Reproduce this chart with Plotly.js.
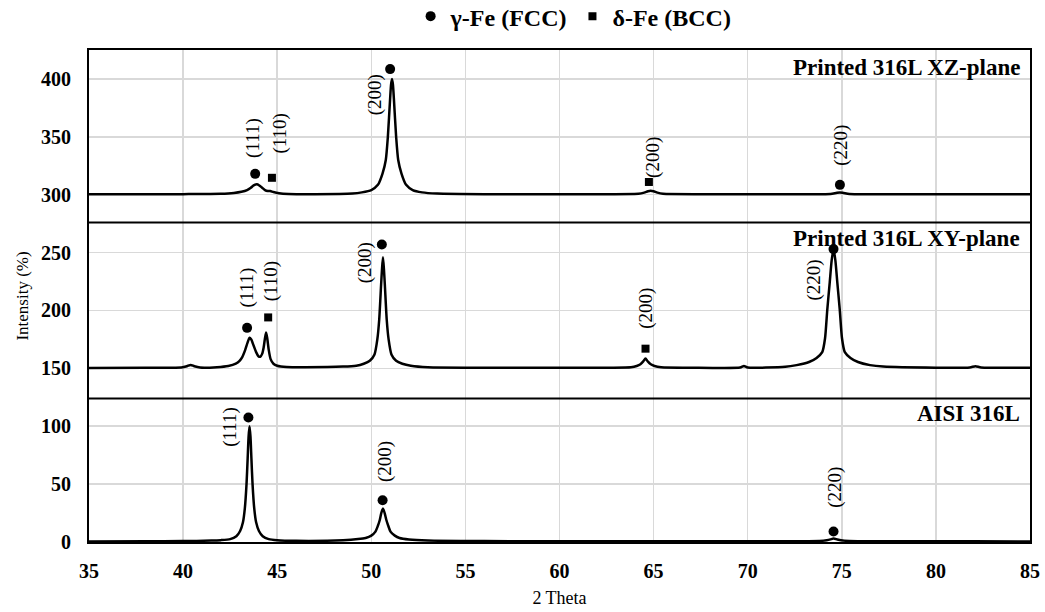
<!DOCTYPE html>
<html>
<head>
<meta charset="utf-8">
<script src="https://cdn.plot.ly/plotly-3.0.1.min.js"></script>
<style>html,body{margin:0;padding:0;background:#fff;}#chart{width:1045px;height:612px;}</style>
</head>
<body>
<div id="chart"></div>
<script>
// ---- Data (2 Theta vs intensity, offset stacked) ----
const xzTheta = [35, 38, 40, 42, 42.7, 43.1, 43.4, 43.6, 43.75, 43.92, 44.05, 44.2, 44.35, 44.5, 44.63, 44.8, 45.1, 45.6, 47, 49, 49.5, 50.0, 50.35, 50.6, 50.77, 50.88, 51.0, 51.05, 51.1, 51.15, 51.2, 51.32, 51.43, 51.6, 51.85, 52.2, 52.7, 53.5, 56, 60, 64.2, 64.5, 64.7, 64.84, 65.0, 65.2, 65.5, 68, 72, 74.4, 74.7, 74.9, 75.1, 75.4, 78, 82, 85];
const xzIntensity = [300.3, 300.4, 300.5, 300.8, 301.5, 302.5, 304, 306, 308, 309, 308, 306, 304, 303.2, 303.2, 302.3, 301.3, 300.7, 300.5, 301, 302, 304, 308.5, 318.5, 330, 350, 383, 395, 400, 395, 383, 350, 330, 318.5, 308.5, 304, 302, 301, 300.5, 300.5, 300.8, 301.8, 303, 303.5, 303, 301.8, 300.8, 300.5, 300.5, 300.7, 301.5, 302, 301.5, 300.7, 300.5, 300.5, 300.5];

const xyTheta = [35, 38, 39.9, 40.2, 40.4, 40.6, 40.9, 41.8, 42.4, 42.8, 43.0, 43.15, 43.3, 43.42, 43.53, 43.62, 43.75, 43.88, 44.0, 44.1, 44.2, 44.28, 44.35, 44.41, 44.47, 44.55, 44.65, 44.8, 45.0, 45.5, 46.5, 48.5, 49.2, 49.6, 49.92, 50.17, 50.32, 50.42, 50.52, 50.57, 50.62, 50.67, 50.72, 50.82, 50.92, 51.07, 51.32, 51.65, 52.1, 53, 56, 60, 63.8, 64.1, 64.3, 64.45, 64.57, 64.69, 64.85, 65.05, 65.4, 67, 69.6, 69.8, 70.0, 72, 72.6, 73.26, 73.66, 73.96, 74.11, 74.23, 74.36, 74.46, 74.56, 74.66, 74.76, 74.89, 75.01, 75.16, 75.46, 75.86, 76.5, 77.2, 80, 81.8, 82.1, 82.4, 85];
const xyIntensity = [150.3, 150.5, 150.7, 151.8, 153, 151.8, 150.7, 151, 152, 154, 156.5, 160, 166, 172, 176.5, 175, 169.5, 164, 160.5, 160, 162.5, 168, 176, 181, 176, 166, 158, 154, 152.3, 151.2, 151, 151.5, 152.3, 154, 156.5, 162, 175, 192, 222, 236, 246, 236, 222, 192, 175, 162, 156.5, 154, 152.3, 151, 150.6, 150.5, 151, 152, 153.5, 156, 158.5, 156, 153.5, 152, 151, 150.6, 150.7, 152, 150.7, 151.3, 152.8, 155.5, 159, 164, 176, 201, 224.5, 243, 253, 243, 224.5, 201, 176, 164, 159, 155.5, 152.8, 151.5, 150.6, 150.8, 151.8, 150.8, 150.5];

const aisiTheta = [35, 38, 40, 41.5, 42.0, 42.5, 42.83, 43.03, 43.18, 43.28, 43.37, 43.43, 43.48, 43.53, 43.58, 43.63, 43.69, 43.78, 43.88, 44.03, 44.23, 44.55, 45, 46, 48.5, 49.3, 49.7, 50.0, 50.22, 50.35, 50.45, 50.53, 50.62, 50.71, 50.8, 50.9, 51.02, 51.25, 51.5, 52, 53, 56, 60, 65, 70, 73.8, 74.2, 74.45, 74.56, 74.7, 74.95, 75.4, 78, 82, 85];
const aisiIntensity = [0.5, 0.6, 0.8, 1.2, 1.6, 2.5, 5, 9.5, 17, 29, 50, 72, 91, 100, 91, 72, 50, 29, 17, 9.5, 5, 2.5, 1.5, 1, 1.5, 2.5, 3.5, 5.5, 9, 14, 19, 25, 29, 25, 19, 14, 9, 5.5, 3.5, 2.2, 1.3, 0.8, 0.6, 0.6, 0.6, 0.9, 1.5, 2.5, 3, 2.5, 1.5, 0.9, 0.6, 0.6, 0.5];

// phase markers
const fccTheta = [43.83, 51.0, 74.9, 43.4, 50.56, 74.56, 43.47, 50.6, 74.56];
const fccY = [318, 408.5, 308.5, 185, 257, 253, 107.5, 36, 9];
const bccTheta = [44.72, 64.75, 44.52, 64.57];
const bccY = [314.6, 311, 194, 167];

// peak index labels
const peakLabels = ["(111)", "(110)", "(200)", "(200)", "(220)", "(111)", "(110)", "(200)", "(200)", "(220)", "(111)", "(200)", "(220)"];
const peakLabelX = [43.74, 45.16, 50.2, 64.93, 74.95, 43.4, 44.66, 49.68, 64.63, 73.53, 42.5, 50.69, 74.6];
const peakLabelY = [349.5, 353, 386, 332, 343, 220, 225, 241, 202, 226, 99.6, 69.3, 47];

// panels
const panelNames = ["Printed 316L XZ-plane", "Printed 316L XY-plane", "AISI 316L"];
const panelNameY = [410, 262.5, 111.4];
const panelBounds = [124, 276];
const yTicks = [0, 50, 100, 150, 200, 250, 300, 350, 400];
const xTicks = [35, 40, 45, 50, 55, 60, 65, 70, 75, 80, 85];

const FONT = "Liberation Serif, serif";

const lineStyle = {color: "#000", width: 2.5, shape: "spline", smoothing: 0.6};
const traces = [
  {x: xzTheta, y: xzIntensity, mode: "lines", line: lineStyle, showlegend: false, hoverinfo: "skip"},
  {x: xyTheta, y: xyIntensity, mode: "lines", line: lineStyle, showlegend: false, hoverinfo: "skip"},
  {x: aisiTheta, y: aisiIntensity, mode: "lines", line: lineStyle, showlegend: false, hoverinfo: "skip"},
  {x: fccTheta, y: fccY, mode: "markers", name: "<b>γ-Fe (FCC)</b>", marker: {symbol: "circle", size: 10, color: "#000"}, showlegend: true},
  {x: bccTheta, y: bccY, mode: "markers", name: "<b>δ-Fe (BCC)</b>", marker: {symbol: "square", size: 8, color: "#000"}, showlegend: true}
];

const annotations = [];
for (let i = 0; i < peakLabels.length; i++) {
  annotations.push({x: peakLabelX[i], y: peakLabelY[i], xref: "x", yref: "y", text: peakLabels[i], showarrow: false, textangle: -90,
    font: {family: FONT, size: 19, color: "#000"}});
}
for (let i = 0; i < panelNames.length; i++) {
  annotations.push({x: 0.992, y: panelNameY[i], xref: "paper", yref: "y", xanchor: "right", yanchor: "middle", text: "<b>" + panelNames[i] + "</b>", showarrow: false,
    font: {family: FONT, size: 23, color: "#000"}});
}

const shapes = panelBounds.map(b => ({type: "line", xref: "paper", x0: 0, x1: 1, yref: "y", y0: b, y1: b, line: {color: "#000", width: 2}}));

const layout = {
  width: 1045, height: 612,
  margin: {l: 89, r: 15, t: 50, b: 70, autoexpand: false},
  paper_bgcolor: "#fff", plot_bgcolor: "#fff",
  showlegend: true,
  legend: {orientation: "h", x: 0.515, xanchor: "center", y: 1.068, yanchor: "middle",
    font: {family: FONT, size: 24, color: "#000"}, itemwidth: 30, tracegroupgap: 0},
  xaxis: {range: [35, 85], tickmode: "array", tickvals: xTicks, ticktext: xTicks.map(v => "<b>" + v + "</b>"),
    showgrid: true, gridcolor: "#d9d9d9", gridwidth: 1.5,
    zeroline: false, showline: true, mirror: true, linecolor: "#000", linewidth: 2, ticks: "",
    ticklabelstandoff: 10,
    tickfont: {family: FONT, size: 20, color: "#000"},
    title: {text: "2 Theta", font: {family: FONT, size: 18, color: "#000"}, standoff: 10}},
  yaxis: {range: [0, 425], tickmode: "array", tickvals: yTicks, ticktext: yTicks.map(v => "<b>" + v + "</b>"),
    showgrid: true, gridcolor: "#d9d9d9", gridwidth: 1.5,
    zeroline: false, showline: true, mirror: true, linecolor: "#000", linewidth: 2, ticks: "",
    ticklabelstandoff: 12,
    tickfont: {family: FONT, size: 20, color: "#000"},
    title: {text: "Intensity (%)", font: {family: FONT, size: 17, color: "#000"}, standoff: 8}},
  annotations: annotations,
  shapes: shapes
};

Plotly.newPlot("chart", traces, layout, {displayModeBar: false, staticPlot: true});
</script>
</body>
</html>
